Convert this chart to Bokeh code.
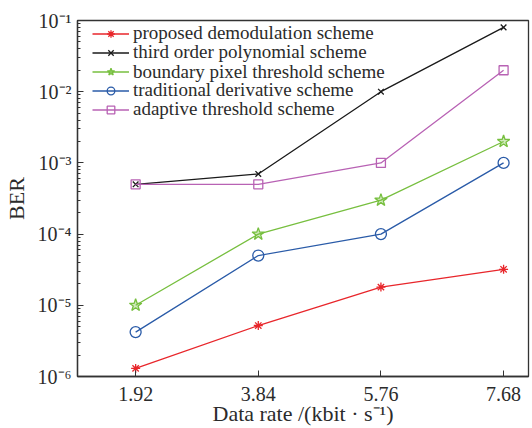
from bokeh.plotting import figure
from bokeh.models import FixedTicker, LogTicker, CustomJSTickFormatter, Range1d, Legend, LegendItem
from bokeh.embed import file_html
from bokeh.resources import INLINE

rates = [1.92, 3.84, 5.76, 7.68]
x_ticks = [1.92, 3.84, 5.76, 7.68]

proposed = [1.3e-6, 5.2e-6, 1.8e-5, 3.2e-5]
third_order = [5e-4, 7e-4, 1e-2, 8e-2]
boundary = [1e-5, 1e-4, 3e-4, 2e-3]
traditional = [4.2e-6, 5e-5, 1e-4, 1e-3]
adaptive = [5e-4, 5e-4, 1e-3, 2e-2]

labels = ["proposed demodulation scheme", "third order polynomial scheme",
          "boundary pixel threshold scheme", "traditional derivative scheme",
          "adaptive threshold scheme"]

FONT = "Liberation Serif"
TXT = "#2b2b2b"
FRAME_H = 357

p = figure(width=532, height=428, y_axis_type="log",
           x_range=Range1d(1.01, 8.07), y_range=Range1d(1e-6, 1e-1),
           output_backend="svg", toolbar_location=None,
           min_border_left=77, min_border_right=4, min_border_top=20, min_border_bottom=51)
p.background_fill_color = "white"
p.border_fill_color = "white"
p.grid.visible = False
p.outline_line_color = "#333333"
p.outline_line_width = 1.3

series = [
    (proposed, "#e8262b", "asterisk", 9, "#e8262b", 1.0),
    (third_order, "#1a1a1a", "x", 8, "#1a1a1a", 1.0),
    (boundary, "#77bf3f", "star", 13, "#77bf3f", 0.35),
    (traditional, "#2a5ba8", "circle", 11, "white", 0.0),
    (adaptive, "#b862b4", "square", 9, "white", 0.0),
]
# row centres of the legend entries, px below the frame top
row_centres = [14, 33, 52.5, 71, 90]
for (ys, col, mk, sz, fc, fa), lab, rc in zip(series, labels, row_centres):
    ln = p.line(rates, ys, line_color=col, line_width=1.3)
    sc = p.scatter(rates, ys, marker=mk, size=sz, line_color=col, line_width=1.3,
                   fill_color=fc, fill_alpha=fa)
    lg = Legend(items=[LegendItem(label=lab, renderers=[ln, sc])],
                location=(15, FRAME_H - rc - 11))
    lg.border_line_color = None
    lg.background_fill_alpha = 0
    lg.padding = 0
    lg.margin = 0
    lg.spacing = 0
    lg.glyph_width = 37
    lg.glyph_height = 19
    lg.label_height = 19
    lg.label_standoff = 4
    lg.label_text_font = FONT
    lg.label_text_font_size = "19px"
    lg.label_text_color = TXT
    p.add_layout(lg)

xa = p.xaxis[0]
xa.ticker = FixedTicker(ticks=x_ticks, minor_ticks=[])
xa.axis_label = "Data rate /(kbit · s⁻¹)"
ya = p.yaxis[0]
ya.ticker = LogTicker(num_minor_ticks=10)
ya.formatter = CustomJSTickFormatter(code="""
const sup = {'-':'\u207b','0':'\u2070','1':'\u00b9','2':'\u00b2','3':'\u00b3','4':'\u2074','5':'\u2075','6':'\u2076','7':'\u2077','8':'\u2078','9':'\u2079'};
const e = Math.round(Math.log10(tick));
return '10' + String(e).split('').map(c => sup[c]).join('');
""")
ya.axis_label = "BER"

for ax in (xa, ya):
    ax.axis_line_color = "#333333"
    ax.axis_line_width = 1.3
    ax.major_tick_line_color = "#333333"
    ax.minor_tick_line_color = "#333333"
    ax.major_tick_in = 6
    ax.major_tick_out = 0
    ax.minor_tick_in = 3
    ax.minor_tick_out = 0
    ax.major_label_text_font = FONT
    ax.major_label_text_font_size = "20px"
    ax.major_label_text_color = TXT
    ax.axis_label_text_font = FONT
    ax.axis_label_text_font_size = "22px"
    ax.axis_label_text_font_style = "normal"
    ax.axis_label_text_color = TXT
xa.major_label_standoff = 10
xa.axis_label_standoff = -3
ya.major_label_standoff = 6
ya.axis_label_standoff = 6

open("out.html", "w").write(file_html(p, INLINE))
